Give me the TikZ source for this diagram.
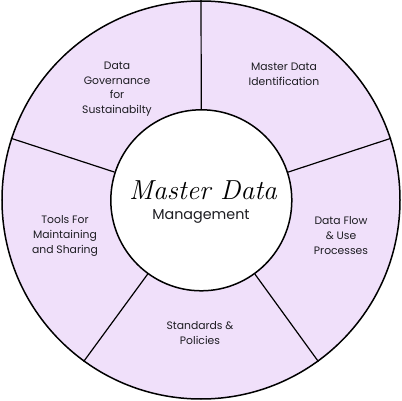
\documentclass[tikz,border=0pt]{standalone}
\usepackage{fontspec}
\setsansfont{Poppins}
\definecolor{lav}{RGB}{240,224,250}
\definecolor{txt}{RGB}{30,30,35}
\begin{document}
\begin{tikzpicture}[x=1pt,y=-1pt,
  ring/.style={circle,draw=black,line width=1.5pt,inner sep=0pt},
  divider/.style={draw=black,line width=1.2pt},
  lbl/.style={font=\sffamily\fontsize{10.8}{14.6}\selectfont,text=txt,align=center,inner sep=0pt}]
\useasboundingbox (0,0) rectangle (402,401);
\node[ring,fill=lav,minimum size=398pt] (o) at (201,200) {};
\node[ring,fill=white,minimum size=181pt] (c) at (201.3,200.3) {};
\foreach \a in {90,162,234,306,18}{
  \draw[divider] (c.\a) -- (o.\a);
}
\node[lbl] (g) at (117,89) {Data\\Governance\\for\\Sustainabilty};
\node[lbl] (m) at (284,74) {Master Data\\Identification};
\node[lbl] (f) at (341,235.5) {Data Flow\\\& Use\\Processes};
\node[lbl] (s) at (200,333) {Standards \&\\Policies};
\node[lbl] (t) at (65,236) {Tools For\\Maintaining\\and Sharing};
\node[font=\rmfamily\itshape\fontsize{27.5}{27.5}\selectfont,text=black,inner sep=0pt] (h) at (203,190) {Master Data};
\node[font=\sffamily\fontsize{14.3}{14.3}\selectfont,text=txt,inner sep=0pt] (k) at (201,216) {Management};
\end{tikzpicture}
\end{document}
